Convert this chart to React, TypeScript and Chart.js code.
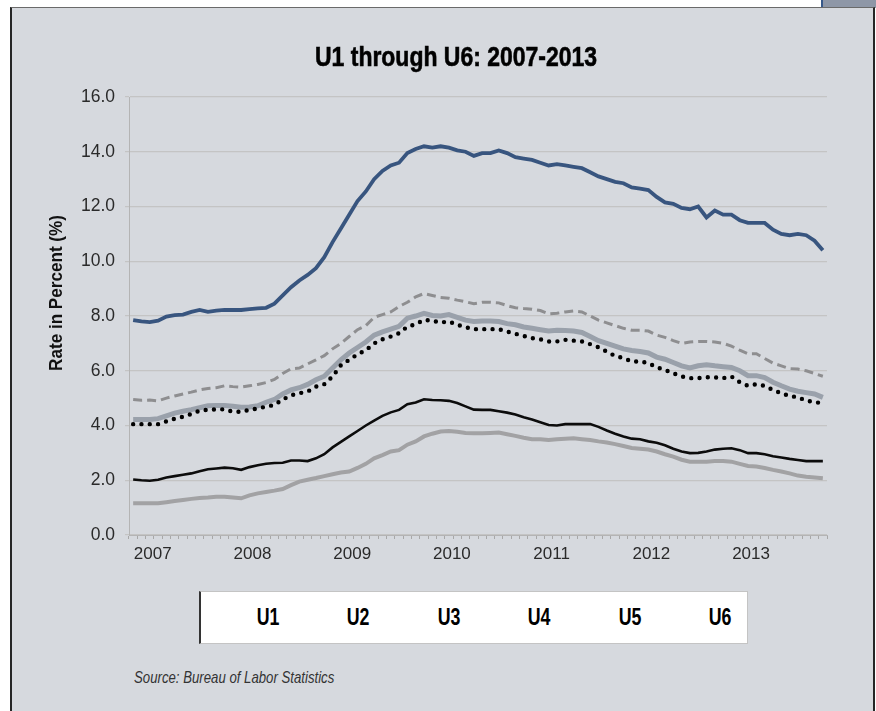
import React, { useEffect, useRef } from "react";
import { Chart, registerables } from "chart.js";

Chart.register(...registerables);

const FONT = '"Liberation Sans", Arial, sans-serif';

// Monthly categories, Nov 2006 .. Oct 2013 (84 months)
const START_YEAR = 2006;
const START_MONTH = 11;
const monthLabels: string[] = [];
for (let i = 0; i < 84; i++) {
  const m0 = START_MONTH - 1 + i;
  const y = START_YEAR + Math.floor(m0 / 12);
  const m = (m0 % 12) + 1;
  monthLabels.push(`${y}-${String(m).padStart(2, "0")}`);
}

const yearTickLabels = ["2007", "2008", "2009", "2010", "2011", "2012", "2013"];
const yTicks = [0, 2, 4, 6, 8, 10, 12, 14, 16];

const seriesNames = ["U1", "U2", "U3", "U4", "U5", "U6"];

const u1 = [
  1.16, 1.16, 1.16, 1.16, 1.2, 1.24, 1.28, 1.32, 1.35, 1.37, 1.4, 1.4,
  1.37, 1.34, 1.45, 1.52, 1.57, 1.62, 1.68, 1.82, 1.95, 2.02, 2.08, 2.15,
  2.22, 2.28, 2.32, 2.45, 2.6, 2.8, 2.92, 3.05, 3.1, 3.3, 3.42, 3.6,
  3.7, 3.78, 3.8, 3.77, 3.73, 3.72, 3.72, 3.73, 3.74, 3.68, 3.62, 3.55,
  3.5, 3.5, 3.47, 3.5, 3.52, 3.53, 3.5, 3.47, 3.42, 3.38, 3.32, 3.25,
  3.18, 3.15, 3.12, 3.05, 2.95, 2.86, 2.75, 2.68, 2.68, 2.68, 2.7, 2.7,
  2.68, 2.6, 2.52, 2.5, 2.45, 2.38, 2.32, 2.25, 2.17, 2.13, 2.1, 2.07,
];

const u2 = [
  2.03, 2.0, 1.98, 2.02, 2.1, 2.15, 2.2, 2.25, 2.33, 2.4, 2.43, 2.46,
  2.44, 2.38, 2.48, 2.55, 2.6, 2.63, 2.64, 2.72, 2.72, 2.7, 2.8, 2.95,
  3.2, 3.4, 3.6, 3.8, 4.0, 4.18, 4.35, 4.48, 4.57, 4.78, 4.84, 4.96,
  4.93, 4.92, 4.9, 4.82, 4.7, 4.58, 4.57, 4.57, 4.52, 4.47, 4.4, 4.3,
  4.22, 4.12, 4.02, 4.0, 4.05, 4.05, 4.05, 4.05, 3.95, 3.82, 3.7, 3.6,
  3.52, 3.5, 3.42, 3.37, 3.28, 3.15, 3.05, 2.99, 3.0, 3.05, 3.12, 3.15,
  3.17, 3.1, 2.99, 2.99, 2.95, 2.88, 2.83, 2.78, 2.74, 2.7, 2.7, 2.7,
];

const u3 = [
  4.05, 4.05, 4.05, 4.05, 4.15, 4.25, 4.32, 4.42, 4.54, 4.58, 4.59, 4.59,
  4.5, 4.5, 4.57, 4.62, 4.69, 4.75, 4.95, 5.1, 5.18, 5.24, 5.42, 5.51,
  5.79, 6.2, 6.4, 6.6, 6.75, 7.0, 7.15, 7.25, 7.37, 7.61, 7.7, 7.86,
  7.83, 7.76, 7.8, 7.68, 7.59, 7.52, 7.52, 7.52, 7.52, 7.43, 7.35, 7.27,
  7.19, 7.15, 7.07, 7.07, 7.13, 7.1, 7.07, 6.97, 6.86, 6.7, 6.54, 6.46,
  6.34, 6.34, 6.28, 6.13, 6.03, 5.91, 5.79, 5.73, 5.73, 5.76, 5.76, 5.73,
  5.79, 5.58, 5.45, 5.51, 5.45, 5.3, 5.18, 5.08, 5.03, 4.91, 4.85, 4.82,
];

const u4 = [
  4.22, 4.22, 4.22, 4.25, 4.35, 4.45, 4.52, 4.58, 4.65, 4.72, 4.73, 4.73,
  4.7, 4.67, 4.68, 4.72, 4.85, 4.95, 5.15, 5.3, 5.38, 5.5, 5.67, 5.8,
  6.1, 6.4, 6.65, 6.85, 7.05, 7.3, 7.42, 7.52, 7.62, 7.92, 8.0, 8.1,
  8.02, 8.0, 8.05, 7.95, 7.85, 7.8, 7.82, 7.82, 7.8, 7.72, 7.68, 7.6,
  7.55, 7.5, 7.45, 7.48, 7.47, 7.45, 7.4, 7.25, 7.1, 7.0, 6.9, 6.8,
  6.74, 6.7, 6.65, 6.5, 6.42, 6.3, 6.18, 6.1, 6.18, 6.22, 6.18, 6.15,
  6.12, 6.0, 5.82, 5.82, 5.75, 5.58, 5.45, 5.33, 5.25, 5.2, 5.15, 5.03,
];

const u5 = [
  4.95, 4.92, 4.93, 4.9, 5.0, 5.08, 5.15, 5.22, 5.3, 5.35, 5.38, 5.45,
  5.42, 5.4, 5.45, 5.5, 5.57, 5.68, 5.9, 6.07, 6.1, 6.25, 6.4, 6.55,
  6.8, 7.0, 7.25, 7.5, 7.65, 7.95, 8.05, 8.15, 8.35, 8.5, 8.7, 8.82,
  8.75, 8.68, 8.65, 8.58, 8.52, 8.45, 8.5, 8.5, 8.48, 8.38, 8.3, 8.27,
  8.25, 8.2, 8.08, 8.1, 8.15, 8.18, 8.15, 8.0, 7.85, 7.75, 7.65, 7.55,
  7.48, 7.48, 7.45, 7.3, 7.22, 7.1, 7.0, 7.05, 7.07, 7.07, 7.05, 7.0,
  6.9, 6.75, 6.62, 6.62, 6.45, 6.28, 6.18, 6.08, 6.06, 6.0, 5.9, 5.8,
];

const u6 = [
  7.85, 7.8, 7.78, 7.83, 7.98, 8.03, 8.05, 8.15, 8.22, 8.15, 8.2, 8.22,
  8.22, 8.22, 8.25, 8.28, 8.3, 8.45, 8.75, 9.05, 9.3, 9.5, 9.75, 10.15,
  10.7, 11.2, 11.7, 12.2, 12.55, 13.0, 13.3, 13.5, 13.6, 13.95, 14.1, 14.2,
  14.15, 14.2, 14.15, 14.05, 14.0, 13.85, 13.95, 13.95, 14.05, 13.95, 13.8, 13.75,
  13.7, 13.6, 13.5, 13.55, 13.5, 13.45, 13.4, 13.25, 13.1, 13.0, 12.9, 12.85,
  12.7, 12.65, 12.6, 12.35, 12.15, 12.1, 11.95, 11.9, 12.0, 11.6, 11.85, 11.7,
  11.7, 11.5, 11.4, 11.4, 11.4, 11.15, 11.0, 10.95, 11.0, 10.95, 10.75, 10.4,
];

const yAxisTitle = "Rate in Percent (%)";
const chartTitle = "U1 through U6: 2007-2013";
const sourceText = "Source: Bureau of Labor Statistics";

const CANVAS_W = 860;
const CANVAS_H = 580;

export default function App() {
  const canvasRef = useRef<HTMLCanvasElement | null>(null);

  useEffect(() => {
    const canvas = canvasRef.current;
    if (!canvas) return;

    const textPlugin = {
      id: "textPlugin",
      afterDraw(chart: any) {
        const ctx = chart.ctx;
        // chart title (condensed)
        ctx.save();
        ctx.translate(444, 58);
        ctx.scale(0.82, 1);
        ctx.font = `bold 28px ${FONT}`;
        ctx.fillStyle = "#000000";
        ctx.strokeStyle = "#000000";
        ctx.lineWidth = 0.6;
        ctx.textAlign = "center";
        ctx.textBaseline = "alphabetic";
        ctx.fillText(chartTitle, 0, 0);
        ctx.strokeText(chartTitle, 0, 0);
        ctx.restore();
        // y axis title
        ctx.save();
        ctx.translate(45, 285);
        ctx.rotate(-Math.PI / 2);
        ctx.scale(0.9, 1);
        ctx.font = `bold 19px ${FONT}`;
        ctx.fillStyle = "#111111";
        ctx.textAlign = "center";
        ctx.textBaseline = "middle";
        ctx.fillText(yAxisTitle, 0, 0);
        ctx.restore();
      },
    };

    const chart = new Chart(canvas, {
      type: "line",
      data: {
        labels: monthLabels,
        datasets: [
          {
            label: seriesNames[0],
            data: u1,
            borderColor: "#a2a2a4",
            borderWidth: 4,
            pointRadius: 0,
            tension: 0,
          },
          {
            label: seriesNames[1],
            data: u2,
            borderColor: "#0c0c0c",
            borderWidth: 2.6,
            pointRadius: 0,
            tension: 0,
          },
          {
            label: seriesNames[2],
            data: u3,
            borderColor: "#000000",
            borderWidth: 4.4,
            borderDash: [0, 8.3],
            borderCapStyle: "round",
            pointRadius: 0,
            tension: 0,
          },
          {
            label: seriesNames[3],
            data: u4,
            borderColor: "#9aa1ab",
            borderWidth: 5,
            pointRadius: 0,
            tension: 0,
          },
          {
            label: seriesNames[4],
            data: u5,
            borderColor: "#8e8e90",
            borderWidth: 3,
            borderDash: [9, 5],
            pointRadius: 0,
            tension: 0,
          },
          {
            label: seriesNames[5],
            data: u6,
            borderColor: "#38557f",
            borderWidth: 3.8,
            pointRadius: 0,
            tension: 0,
          },
        ],
      },
      options: {
        animation: false,
        responsive: false,
        maintainAspectRatio: false,
        devicePixelRatio: 1,
        layout: { padding: { left: 0, right: 45, top: 89, bottom: 0 } },
        plugins: {
          legend: { display: false },
          tooltip: { enabled: false },
          title: { display: false },
        },
        scales: {
          x: {
            type: "category",
            offset: true,
            grid: {
              display: true,
              offset: true,
              drawOnChartArea: false,
              drawTicks: true,
              tickLength: 4,
              color: "#a8a8a8",
              lineWidth: 1,
            },
            border: { display: true, color: "#b4b4b4", width: 1 },
            ticks: {
              autoSkip: false,
              maxRotation: 0,
              minRotation: 0,
              padding: 5,
              labelOffset: 3,
              color: "#2a2a2a",
              font: { family: FONT, size: 17 },
              callback: (_v: any, i: number) => {
                const lab = monthLabels[i];
                if (lab && lab.endsWith("-01")) {
                  const yr = lab.slice(0, 4);
                  return yearTickLabels.includes(yr) ? yr : "";
                }
                return "";
              },
            },
            afterFit: (scale: any) => {
              scale.height = 53;
            },
          },
          y: {
            min: 0,
            max: 16,
            afterBuildTicks: (scale: any) => {
              scale.ticks = yTicks.map((v) => ({ value: v }));
            },
            grid: {
              color: "#c4c4c4",
              lineWidth: 1.2,
              drawTicks: true,
              tickLength: 4,
            },
            border: { display: true, color: "#b4b4b4", width: 1 },
            ticks: {
              padding: 10,
              color: "#2a2a2a",
              font: { family: FONT, size: 17.5 },
              callback: (v: any) => Number(v).toFixed(1),
            },
            afterFit: (scale: any) => {
              scale.width = 117;
            },
          },
        },
      },
      plugins: [textPlugin],
    });

    return () => {
      chart.destroy();
    };
  }, []);

  const legendLeft = 199;
  const legendFirstCenter = 266;
  const legendStep = 90.4;

  return (
    <div
      style={{
        position: "absolute",
        left: 0,
        top: 0,
        width: 876,
        height: 711,
        background: "#ffffff",
        overflow: "hidden",
      }}
    >
      <div
        style={{
          position: "absolute",
          left: 821,
          top: 0,
          width: 55,
          height: 8,
          background: "#8e97a7",
          borderLeft: "2px solid #37598a",
          boxSizing: "border-box",
        }}
      />
      <div
        style={{
          position: "absolute",
          left: 10,
          top: 7,
          width: 865,
          height: 710,
          background: "#d6d9de",
          borderLeft: "2px solid #262626",
          borderTop: "1px solid #6a6a6a",
          borderRight: "2px solid #262626",
          boxSizing: "border-box",
        }}
      />
      <canvas
        ref={canvasRef}
        width={CANVAS_W}
        height={CANVAS_H}
        style={{
          position: "absolute",
          left: 12,
          top: 8,
          width: CANVAS_W,
          height: CANVAS_H,
        }}
      />
      <div
        style={{
          position: "absolute",
          left: legendLeft,
          top: 591,
          width: 549,
          height: 53,
          background: "#ffffff",
          borderLeft: "2px solid #333333",
          borderTop: "1px solid #c4c4c4",
          borderRight: "1px solid #c4c4c4",
          borderBottom: "1px solid #c4c4c4",
          boxSizing: "border-box",
        }}
      >
        {seriesNames.map((name, i) => (
          <div
            key={name}
            style={{
              position: "absolute",
              left: legendFirstCenter + i * legendStep - legendLeft - 45,
              width: 90,
              top: 11,
              textAlign: "center",
              fontFamily: FONT,
              fontWeight: "bold",
              fontSize: 24,
              lineHeight: "28px",
              color: "#000000",
              transform: "scaleX(0.74)",
            }}
          >
            {name}
          </div>
        ))}
      </div>
      <div
        style={{
          position: "absolute",
          left: 134,
          top: 667,
          fontFamily: FONT,
          fontStyle: "italic",
          fontSize: 16.5,
          lineHeight: "20px",
          color: "#333333",
          whiteSpace: "nowrap",
          transform: "scaleX(0.8)",
          transformOrigin: "0 0",
        }}
      >
        {sourceText}
      </div>
    </div>
  );
}
